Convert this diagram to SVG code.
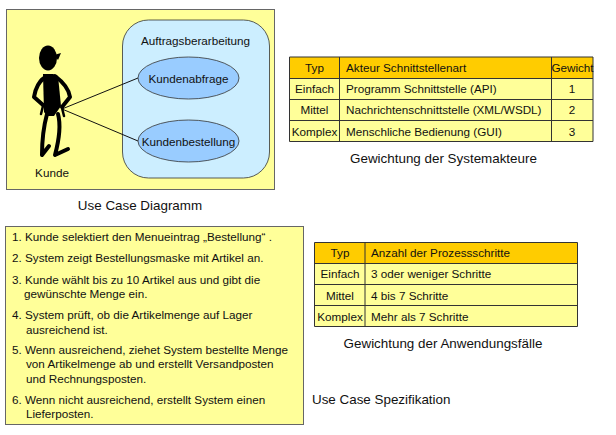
<svg xmlns="http://www.w3.org/2000/svg" width="616" height="435" viewBox="0 0 616 435">
<style>
text{font-family:"Liberation Sans",Arial,sans-serif;font-size:11.7px;fill:#111}
.cap{font-size:13.4px}
.m{text-anchor:middle}
.panel{fill:#ffff99;stroke:#666;stroke-width:1}
.uc{fill:#99ccff;stroke:#333;stroke-width:.8}
.head{fill:#ffcc00}
.rows{fill:#ffff99}
.grid{stroke:#333;stroke-width:1;fill:none}
.fig{fill:none;stroke:#000;stroke-linecap:round;stroke-linejoin:round}
</style>
<rect width="616" height="435" fill="#fff"/>
<g id="use-case-diagram">
<rect class="panel" x="6.500" y="9.500" width="268" height="180"/>
<rect x="122.500" y="20" width="147" height="158" rx="26" fill="#cceeff" stroke="#333" stroke-width=".8"/>
<text class="m" x="195.500" y="45">Auftragsberarbeitung</text>
<text class="m" x="52" y="177">Kunde</text>
</g>
<g id="connectors" stroke="#111" stroke-width="1" fill="none">
<line x1="62" y1="109" x2="138" y2="78"/>
<line x1="62" y1="109" x2="138" y2="141"/>
</g>
<g id="actor">
<ellipse cx="48" cy="58" rx="9" ry="12.500" fill="#000"/>
<path d="M54 55L61 53L58 60Z" fill="#000"/>
<path d="M43 74H53L58 76L61 106L54 116H47L44 112Z" fill="#000"/>
<path class="fig" stroke-width="4" d="M48 76C39 79 35 90 34 97L43 105M55 76C63 82 69 90 70 97L62 107"/>
<path class="fig" stroke-width="2.500" d="M43 106L41 114M62 108L64 116"/>
<path class="fig" stroke-width="4" d="M47 114C44 125 42 140 42 155M42 155L49 146M58 114C61 125 59 140 55 155L68 149"/>
</g>
<g id="kundenabfrage">
<ellipse class="uc" cx="188.500" cy="78" rx="50.500" ry="21"/>
<text class="m" x="188.500" y="83">Kundenabfrage</text>
</g>
<g id="kundenbestellung">
<ellipse class="uc" cx="188.500" cy="141" rx="50.500" ry="21"/>
<text class="m" x="188.500" y="146">Kundenbestellung</text>
</g>
<text class="cap m" x="140" y="210">Use Case Diagramm</text>
<g id="table-systemakteure">
<rect class="head" x="289.500" y="57" width="303.500" height="21.500"/>
<rect class="rows" x="289.500" y="78.500" width="303.500" height="63"/>
<path class="grid" d="M289.500 57H593V141.500H289.500ZM289.500 78.500H593M289.500 99.500H593M289.500 120.500H593M339.500 57V141.500M551.500 57V141.500"/>
<text class="m" x="314.500" y="72">Typ</text>
<text x="346" y="72">Akteur Schnittstellenart</text>
<text class="m" x="572.500" y="72">Gewicht</text>
<text class="m" x="314.500" y="93">Einfach</text>
<text x="346" y="93">Programm Schnittstelle (API)</text>
<text class="m" x="572" y="93">1</text>
<text class="m" x="314.500" y="114">Mittel</text>
<text x="346" y="114">Nachrichtenschnittstelle (XML/WSDL)</text>
<text class="m" x="572" y="114">2</text>
<text class="m" x="314.500" y="136">Komplex</text>
<text x="346" y="136">Menschliche Bedienung (GUI)</text>
<text class="m" x="572" y="136">3</text>
</g>
<text class="cap m" x="443.500" y="163">Gewichtung der Systemakteure</text>
<g id="table-anwendungsfaelle">
<rect class="head" x="314.500" y="242.500" width="263" height="21"/>
<rect class="rows" x="314.500" y="263.500" width="263" height="63"/>
<path class="grid" d="M314.500 242.500H577.500V326.500H314.500ZM314.500 263.500H577.500M314.500 284.500H577.500M314.500 305.500H577.500M365 242.500V326.500"/>
<text class="m" x="340" y="257">Typ</text>
<text x="371" y="257">Anzahl der Prozessschritte</text>
<text class="m" x="340" y="278">Einfach</text>
<text x="371" y="278">3 oder weniger Schritte</text>
<text class="m" x="340" y="300">Mittel</text>
<text x="371" y="300">4 bis 7 Schritte</text>
<text class="m" x="340" y="321">Komplex</text>
<text x="371" y="321">Mehr als 7 Schritte</text>
</g>
<text class="cap m" x="443" y="348">Gewichtung der Anwendungsfälle</text>
<text class="cap" x="312" y="404">Use Case Spezifikation</text>
<g id="use-case-spezifikation">
<rect class="panel" x="5.500" y="226.500" width="298" height="198"/>
<text x="12" y="241">1. Kunde selektiert den Menueintrag „Bestellung“ .</text>
<text x="12" y="262">2. System zeigt Bestellungsmaske mit Artikel an.</text>
<text x="12" y="284">3. Kunde wählt bis zu 10 Artikel aus und gibt die</text>
<text x="24" y="298">gewünschte Menge ein.</text>
<text x="12" y="319">4. System prüft, ob die Artikelmenge auf Lager</text>
<text x="26" y="334">ausreichend ist.</text>
<text x="12" y="354">5. Wenn ausreichend, ziehet System bestellte Menge</text>
<text x="26" y="368">von Artikelmenge ab und erstellt Versandposten</text>
<text x="26" y="383">und Rechnungsposten.</text>
<text x="12" y="404">6. Wenn nicht ausreichend, erstellt System einen</text>
<text x="26" y="418">Lieferposten.</text>
</g>
</svg>
